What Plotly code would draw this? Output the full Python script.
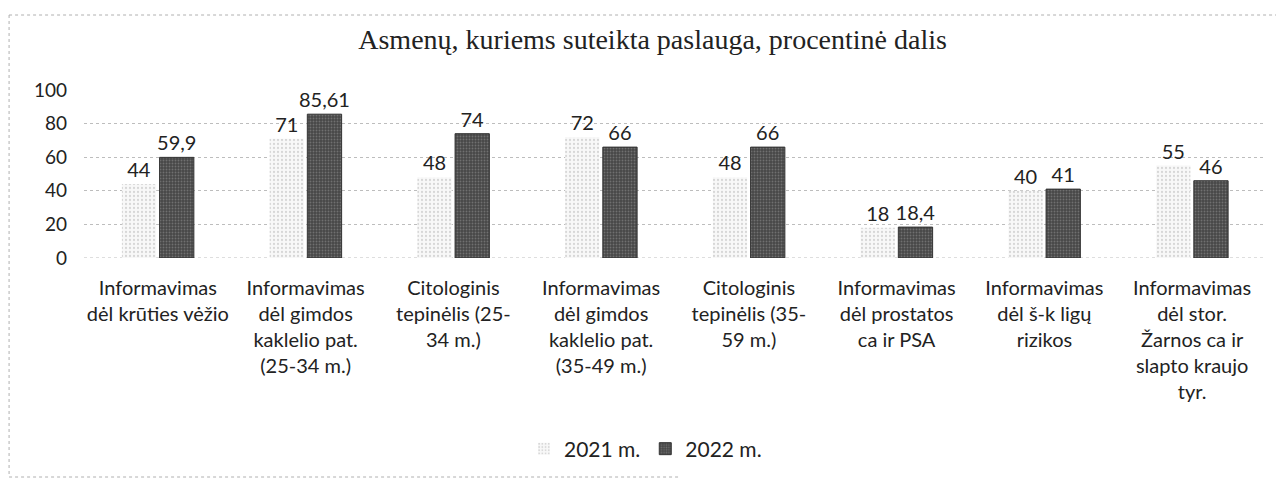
import plotly.graph_objects as go

categories = [
    "Informavimas<br>dėl krūties vėžio",
    "Informavimas<br>dėl gimdos<br>kaklelio pat.<br>(25-34 m.)",
    "Citologinis<br>tepinėlis (25-<br>34 m.)",
    "Informavimas<br>dėl gimdos<br>kaklelio pat.<br>(35-49 m.)",
    "Citologinis<br>tepinėlis (35-<br>59 m.)",
    "Informavimas<br>dėl prostatos<br>ca ir PSA",
    "Informavimas<br>dėl š-k ligų<br>rizikos",
    "Informavimas<br>dėl stor.<br>Žarnos ca ir<br>slapto kraujo<br>tyr.",
]
values_2021 = [44, 71, 48, 72, 48, 18, 40, 55]
values_2022 = [59.9, 85.61, 74, 66, 66, 18.4, 41, 46]
series_names = ["2021 m.", "2022 m."]
y_ticks = [0, 20, 40, 60, 80, 100]

FONT = "Lato"

def fmt(v):
    return ("%g" % v).replace(".", ",")

# plot-area geometry in figure pixels (used only to place the frame lines)
L, T, B, W, H = 76, 82, 236, 1284, 486
PW, PH = W - L - 26, H - T - B

fig = go.Figure()
fig.add_trace(go.Bar(
    name=series_names[0], x=categories, y=values_2021,
    text=[fmt(v) for v in values_2021], textposition="outside", constraintext="none",
    textfont=dict(family=FONT, size=20, color="#222"),
    marker=dict(color="#f7f7f7", line=dict(width=0),
                pattern=dict(shape=".", fgcolor="#b5b5b5", bgcolor="#f8f8f8", size=4, solidity=0.25)),
    cliponaxis=False,
))
fig.add_trace(go.Bar(
    name=series_names[1], x=categories, y=values_2022,
    text=[fmt(v) for v in values_2022], textposition="outside", constraintext="none",
    textfont=dict(family=FONT, size=20, color="#222"),
    marker=dict(color="#4a4a4a", line=dict(width=1, color="#333"),
                pattern=dict(shape=".", fgcolor="#9a9a9a", bgcolor="#474747", size=3, solidity=0.3)),
    cliponaxis=False,
))

fig.update_layout(
    width=W, height=H,
    margin=dict(l=L, r=26, t=T, b=B),
    paper_bgcolor="white", plot_bgcolor="white",
    barmode="group", bargap=0.49, bargroupgap=0.09,
    title=dict(text="Asmenų, kuriems suteikta paslauga, procentinė dalis",
               font=dict(family="Liberation Serif", size=28, color="#222"),
               x=0.502, xanchor="center", y=0.936, yanchor="middle"),
    font=dict(family=FONT, color="#222"),
    legend=dict(orientation="h", x=0.475, xanchor="center", y=-1.137, yanchor="middle",
                font=dict(family=FONT, size=21, color="#222"), traceorder="normal"),
    showlegend=True,
)
fig.update_yaxes(range=[0, 100], tickvals=y_ticks, showgrid=True, gridcolor="#bdbdbd",
                 griddash="dot", gridwidth=1, zeroline=False, showline=False,
                 tickfont=dict(family=FONT, size=19, color="#222"), ticks="",
                 ticklabelstandoff=16)
fig.update_xaxes(showline=False, tickfont=dict(family=FONT, size=20, color="#222"),
                 ticks="", tickangle=0, ticklabelstandoff=16)

dot = dict(color="#b0b0b0", width=1, dash="dot")
# baseline at 0
fig.add_shape(type="line", xref="paper", yref="y", x0=0, x1=1, y0=0, y1=0,
              line=dict(color="#bdbdbd", width=1, dash="dot"), layer="below")
# scanned frame: top, left, partial bottom
fx0 = -L / PW + 0.0009
fig.add_shape(type="line", xref="paper", yref="paper", x0=fx0, x1=(W - 8 - L) / PW,
              y0=(PH + T - 7) / PH, y1=(PH + T - 7) / PH, line=dot)
fig.add_shape(type="line", xref="paper", yref="paper", x0=fx0, x1=fx0,
              y0=(PH + T - 7) / PH, y1=(PH + T - 469) / PH, line=dot)
fig.add_shape(type="line", xref="paper", yref="paper", x0=fx0, x1=(672 - L) / PW,
              y0=(PH + T - 469) / PH, y1=(PH + T - 469) / PH, line=dot)

fig.write_html("out.html")
